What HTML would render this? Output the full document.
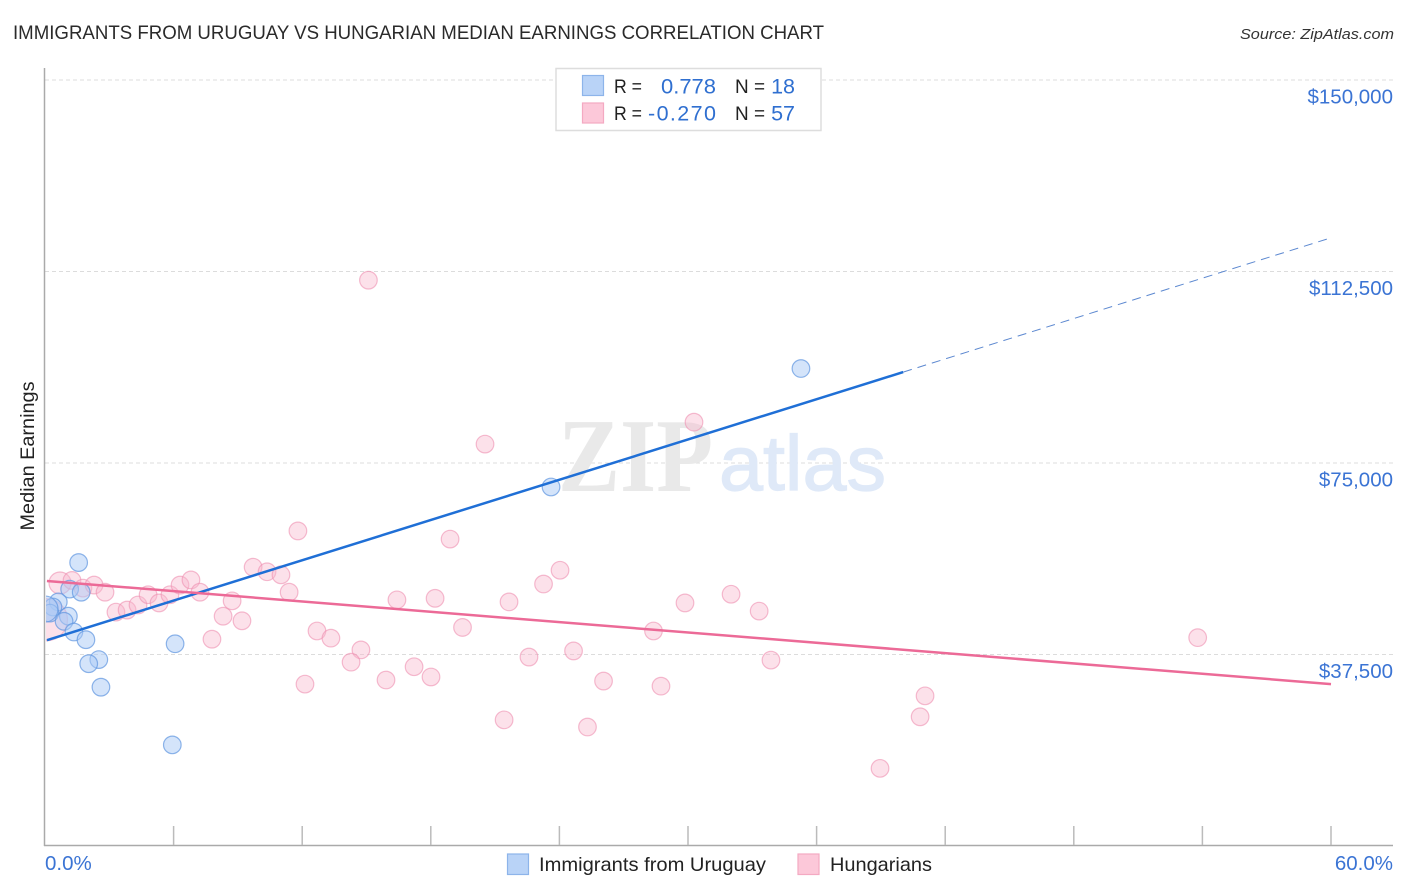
<!DOCTYPE html>
<html lang="en">
<head>
<meta charset="utf-8">
<title>Immigrants from Uruguay vs Hungarian Median Earnings Correlation Chart</title>
<style>
html,body{margin:0;padding:0;background:#fff;}
body{width:1406px;height:892px;overflow:hidden;}
svg{display:block;font-family:"Liberation Sans",sans-serif;}
</style>
</head>
<body>
<svg id="chart" xmlns="http://www.w3.org/2000/svg" width="1406" height="892" viewBox="0 0 1406 892">
  <defs>
    <clipPath id="plot-clip"><rect x="46" y="60" width="1350" height="785"/></clipPath>
  </defs>
  <rect x="0" y="0" width="1406" height="892" fill="#ffffff"/>
  <text x="13" y="39" font-size="19.5" fill="#2a2a2a" textLength="811" lengthAdjust="spacingAndGlyphs">IMMIGRANTS FROM URUGUAY VS HUNGARIAN MEDIAN EARNINGS CORRELATION CHART</text>
  <text x="1394" y="39" font-size="15" font-style="italic" fill="#333333" text-anchor="end" textLength="154" lengthAdjust="spacingAndGlyphs">Source: ZipAtlas.com</text>
  <g id="grid"></g>
  <g>
    <text x="558" y="491" font-family="'Liberation Serif',serif" font-weight="bold" font-size="105" fill="#e9e9e9" textLength="155" lengthAdjust="spacingAndGlyphs">ZIP</text>
    <text x="719" y="490" font-size="78" fill="#dfe9f8" stroke="#dfe9f8" stroke-width="1.2" textLength="167" lengthAdjust="spacingAndGlyphs">atlas</text>
  </g>
  <g id="axes">
    <line x1="44.5" y1="68" x2="44.5" y2="846" stroke="#aaaaaa" stroke-width="1.5"/>
    <line x1="44" y1="845.5" x2="1393" y2="845.5" stroke="#aaaaaa" stroke-width="1.5"/>
  </g>
  <g id="ticks"></g>
  <g id="points" clip-path="url(#plot-clip)"></g>
  <g id="trends"></g>
  <g id="tick-labels"></g>
  <text transform="translate(34,456) rotate(-90)" font-size="19" fill="#222222" text-anchor="middle" textLength="149" lengthAdjust="spacingAndGlyphs">Median Earnings</text>

  <g>
    <rect x="556" y="68.5" width="265" height="62" fill="#ffffff" stroke="#dddddd" stroke-width="1.5"/>
    <rect x="582.5" y="75.5" width="21" height="20" fill="#b9d3f7" stroke="#8db4ea" stroke-width="1.2"/>
    <rect x="582.5" y="103" width="21" height="20" fill="#fcc8d9" stroke="#f4a9c2" stroke-width="1.2"/>
    <text x="614" y="93" font-size="19.5" fill="#222222" textLength="28" lengthAdjust="spacingAndGlyphs">R =</text>
    <text x="661" y="93.5" font-size="21.5" fill="#2f6fd0" textLength="55" lengthAdjust="spacingAndGlyphs">0.778</text>
    <text x="735" y="93" font-size="19.5" fill="#222222" textLength="30" lengthAdjust="spacingAndGlyphs">N =</text>
    <text x="795" y="93.5" font-size="21.5" fill="#2f6fd0" text-anchor="end">18</text>
    <text x="614" y="120" font-size="19.5" fill="#222222" textLength="28" lengthAdjust="spacingAndGlyphs">R =</text>
    <text x="648" y="120.5" font-size="21.5" fill="#2f6fd0" textLength="68" lengthAdjust="spacing">-0.270</text>
    <text x="735" y="120" font-size="19.5" fill="#222222" textLength="30" lengthAdjust="spacingAndGlyphs">N =</text>
    <text x="795" y="120.5" font-size="21.5" fill="#2f6fd0" text-anchor="end">57</text>
  </g>

  <g>
    <rect x="507.5" y="854" width="21" height="20.5" fill="#b9d3f7" stroke="#8db4ea" stroke-width="1.2"/>
    <text x="539" y="871" font-size="19.5" fill="#222222" textLength="227" lengthAdjust="spacingAndGlyphs">Immigrants from Uruguay</text>
    <rect x="798" y="854" width="21" height="20.5" fill="#fcc8d9" stroke="#f4a9c2" stroke-width="1.2"/>
    <text x="830" y="871" font-size="19.5" fill="#222222" textLength="102" lengthAdjust="spacingAndGlyphs">Hungarians</text>
  </g>
</svg>
<script>
const yTickValues = [150000, 112500, 75000, 37500];
const yTickLabels = ["$150,000", "$112,500", "$75,000", "$37,500"];
const xTickValues = [6, 12, 18, 24, 30, 36, 42, 48, 54, 60];
const xEndValues = [0, 60];
const xEndLabels = ["0.0%", "60.0%"];

const uruguayX = [35.27, 23.61, 1.57, 1.15, 1.69, 0.62, 0.37, 0.23, 1.09, 0.89, 1.35, 1.91, 2.51, 2.04, 2.61, 6.07, 5.94, 0.0];
const uruguayY = [93500, 70300, 55500, 50300, 49700, 47800, 46800, 45600, 45000, 44000, 41900, 40400, 36500, 35700, 31100, 39600, 19800, 46400];

const hungarianX = [15.09, 20.53, 30.28, 11.80, 18.90, 9.71, 10.36, 11.01, 24.03, 23.26, 11.39, 16.42, 18.20, 21.65, 32.01, 29.86, 33.32, 19.48, 28.39, 12.69, 13.34, 53.78, 7.79, 9.19, 8.31, 8.73, 14.74, 14.28, 24.66, 22.58, 33.87, 17.22, 15.91, 18.01, 12.13, 26.06, 28.74, 41.06, 40.83, 21.42, 25.31, 38.96, 0.70, 1.26, 1.77, 2.29, 2.80, 3.31, 3.83, 4.34, 4.81, 5.32, 5.83, 6.30, 6.81, 7.23, 0.07];
const hungarianY = [110800, 78700, 83000, 61700, 60100, 54600, 53700, 53100, 54000, 51300, 49700, 48200, 48500, 47800, 49300, 47600, 46000, 42800, 42100, 42100, 40700, 40800, 40500, 44100, 45000, 48000, 38400, 36000, 38200, 37000, 36400, 35100, 32500, 33100, 31700, 32300, 31300, 29400, 25300, 24700, 23300, 15200, 51500, 52000, 50500, 51100, 49700, 45800, 46200, 47200, 49200, 47600, 49200, 51100, 52100, 49700, 44300];

const uruguayTrendX = [0.09, 40.04];
const uruguayTrendY = [40300, 92800];
const uruguayForecastX = [40.04, 60];
const uruguayForecastY = [92800, 119100];
const hungarianTrendX = [0.09, 60];
const hungarianTrendY = [51900, 31700];

const NS = "http://www.w3.org/2000/svg";
const X0 = 45, X60 = 1331, Y_37500 = 654.5, Y_150000 = 80;
function xScale(v) { return X0 + (v / 60) * (X60 - X0); }
function yScale(v) { return Y_37500 + (v - 37500) * (Y_150000 - Y_37500) / 112500; }
function make(tag, attrs) {
  const el = document.createElementNS(NS, tag);
  for (const k in attrs) el.setAttribute(k, attrs[k]);
  return el;
}
function hungarianRadius(i) {
  if (i === 56) return 21;
  if (i === 42) return 11;
  return 8.8;
}
function uruguayRadius(i) {
  return i === 17 ? 13 : 8.8;
}

const gridG = document.getElementById("grid");
const ticksG = document.getElementById("ticks");
const labelsG = document.getElementById("tick-labels");
const pointsG = document.getElementById("points");
const trendsG = document.getElementById("trends");

yTickValues.forEach(function (v, i) {
  const g = make("line", { x1: 45, x2: 1393, y1: yScale(v), y2: yScale(v), stroke: "#dcdcdc", "stroke-width": 1, "stroke-dasharray": "4 3" });
  
  
  gridG.appendChild(g);
  const t = make("text", { x: 1393, y: yScale(v) + 23.5, "font-size": 20.5, fill: "#3b74d4", "text-anchor": "end" });
  
  
  t.textContent = yTickLabels[i];
  labelsG.appendChild(t);
});

xTickValues.forEach(function (v) {
  const l = make("line", { x1: xScale(v), x2: xScale(v), y1: 826, y2: 845, stroke: "#bbbbbb", "stroke-width": 1.5 });
  
  
  ticksG.appendChild(l);
});

xEndValues.forEach(function (v, i) {
  const t = make("text", { x: i === 0 ? xScale(v) : 1393, y: 870, "font-size": 20.5, fill: "#3b74d4", "text-anchor": i === 0 ? "start" : "end" });
  
  
  t.textContent = xEndLabels[i];
  labelsG.appendChild(t);
});

hungarianX.forEach(function (v, i) {
  const c = make("circle", { cx: xScale(v), cy: yScale(hungarianY[i]), r: hungarianRadius(i), fill: "#f9b8cd", "fill-opacity": 0.42, stroke: "#ee8fb0", "stroke-opacity": 0.6, "stroke-width": 1.2 });
  
  
  pointsG.appendChild(c);
});

uruguayX.forEach(function (v, i) {
  const c = make("circle", { cx: xScale(v), cy: yScale(uruguayY[i]), r: uruguayRadius(i), fill: "#a9c9f5", "fill-opacity": 0.5, stroke: "#5f95e0", "stroke-opacity": 0.7, "stroke-width": 1.2 });
  
  
  pointsG.appendChild(c);
});

const uruguayLine = make("line", { x1: xScale(uruguayTrendX[0]), y1: yScale(uruguayTrendY[0]), x2: xScale(uruguayTrendX[1]), y2: yScale(uruguayTrendY[1]), stroke: "#1f6fd6", "stroke-width": 2.5 });


trendsG.appendChild(uruguayLine);

const forecastLine = make("line", { x1: xScale(uruguayForecastX[0]), y1: yScale(uruguayForecastY[0]), x2: xScale(uruguayForecastX[1]), y2: yScale(uruguayForecastY[1]), stroke: "#5c88d0", "stroke-width": 1, "stroke-dasharray": "9 6" });


trendsG.appendChild(forecastLine);

const hungarianLine = make("line", { x1: xScale(hungarianTrendX[0]), y1: yScale(hungarianTrendY[0]), x2: xScale(hungarianTrendX[1]), y2: yScale(hungarianTrendY[1]), stroke: "#ec6a97", "stroke-width": 2.5 });


trendsG.appendChild(hungarianLine);
</script>
</body>
</html>
